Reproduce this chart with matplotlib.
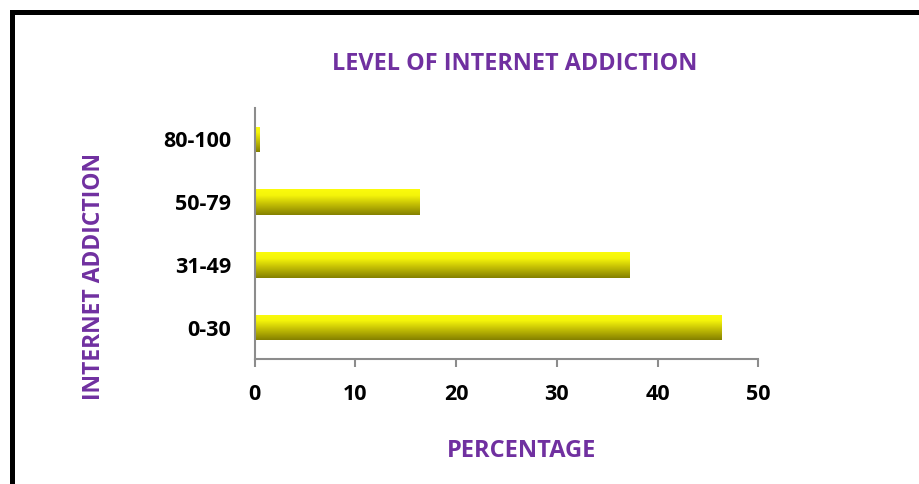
import matplotlib
matplotlib.use("Agg")
import matplotlib.pyplot as plt
import numpy as np
from matplotlib.colors import LinearSegmentedColormap
from matplotlib.patches import Rectangle

categories = ["0-30", "31-49", "50-79", "80-100"]
values = [46.3, 37.2, 16.3, 0.45]
xticks = [0, 10, 20, 30, 40, 50]

title = "LEVEL OF INTERNET ADDICTION"
xlabel = "PERCENTAGE"
ylabel = "INTERNET ADDICTION"

purple = "#7030A0"
axis_gray = "#8c8c8c"
font = "Open Sans"
wt = 700

fig = plt.figure(figsize=(9.19, 4.84), dpi=100)
W, H = 919, 484
ax = fig.add_axes([254.5 / W, 1 - 359 / H, (758.3 - 254.5) / W, (359 - 108) / H])

ypos = np.arange(len(categories))
bars = ax.barh(ypos, values, height=0.41, color="none", edgecolor="none")

cmap = LinearSegmentedColormap.from_list(
    "yel", [(0.0, "#fbfb0c"), (0.25, "#f4f40a"), (0.55, "#c9c405"), (1.0, "#848000")])
grad = np.linspace(0, 1, 256).reshape(-1, 1)
for b in bars:
    x0, y0 = b.get_x(), b.get_y()
    w, h = b.get_width(), b.get_height()
    im = ax.imshow(grad, cmap=cmap, aspect="auto",
                   extent=[x0, x0 + w, y0, y0 + h], origin="upper",
                   interpolation="bilinear", zorder=2)
    im.set_clip_path(b)

ax.set_xlim(0, 50)
ax.set_ylim(-0.5, 3.5)
ax.set_xticks(xticks)
ax.set_xticklabels([str(t) for t in xticks], fontfamily=font, fontweight=wt, fontsize=15.5)
ax.set_yticks(ypos)
ax.set_yticklabels(categories, fontfamily=font, fontweight=wt, fontsize=15.5)
ax.tick_params(axis="x", direction="out", length=6, width=1.5, color=axis_gray, pad=12)
ax.tick_params(axis="y", length=0, pad=17)
for s in ["top", "right"]:
    ax.spines[s].set_visible(False)
for s in ["left", "bottom"]:
    ax.spines[s].set_color(axis_gray)
    ax.spines[s].set_linewidth(1.5)

fig.text(515 / W, 1 - 64 / H, title, color=purple, fontfamily=font, fontweight=wt,
         fontsize=16.8, ha="center", va="center")
fig.text(522 / W, 1 - 451 / H, xlabel, color=purple, fontfamily=font, fontweight=wt,
         fontsize=17, ha="center", va="center")
fig.text(94 / W, 1 - 277 / H, ylabel, color=purple, fontfamily=font, fontweight=wt,
         fontsize=16.5, ha="center", va="center", rotation=90)

# outer frame
fig.patches.append(Rectangle((12 / W, -0.1), 1.2, 1 - 12 / H + 0.1, transform=fig.transFigure,
                             fill=False, edgecolor="black", linewidth=3.6))

fig.savefig("out.png", dpi=100)
